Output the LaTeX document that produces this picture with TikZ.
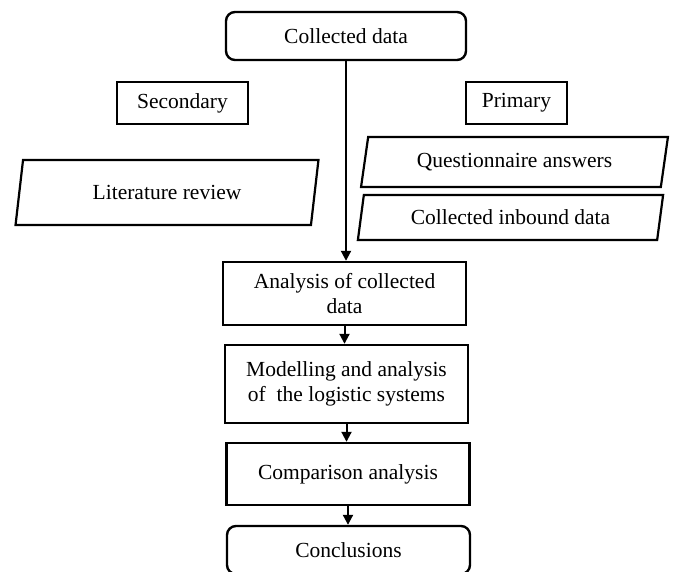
\documentclass[tikz,border=0pt]{standalone}
\usepackage{fontspec}
\setmainfont{Liberation Serif}
\usetikzlibrary{shapes.geometric,arrows.meta}

\begin{document}
\begin{tikzpicture}[x=1pt, y=-1pt,
    every node/.style={font=\fontsize{21.5}{25}\selectfont, align=center, inner sep=0pt},
    startstop/.style={draw, rounded corners=9pt, line width=2.4pt, minimum width=240pt, minimum height=48pt},
    process/.style={draw, line width=2.4pt, minimum width=243pt},
    source/.style={draw, line width=2.2pt, minimum height=42pt},
    io/.style={draw, trapezium, trapezium left angle=75, trapezium right angle=105,
        trapezium stretches=true, line width=2.2pt},
    flow/.style={-{Triangle[length=10pt,width=10pt]}, line width=2pt}
]
\useasboundingbox (0,0) rectangle (678,571);

% Define data sources
\node[startstop] (collected) at (346,36) {Collected data};
\node[source, minimum width=131pt] (secondary) at (182.5,103) {Secondary};
\node[source, minimum width=101pt] (primary) at (516.5,103) {Primary};
\node[io, minimum width=303pt, minimum height=65pt] (literature) at (167,192.5) {Literature review};
\node[io, minimum width=307pt, minimum height=50pt] (questionnaire) at (514.5,162) {Questionnaire answers};
\node[io, minimum width=306pt, minimum height=45pt] (inbound) at (510.5,217.5) {Collected inbound data};

% Define analysis steps
\node[process, minimum height=63pt] (analysis) at (344.5,293.5) {Analysis of collected\\data};
\node[process, minimum height=78pt] (modelling) at (346.5,384) {Modelling and analysis\\of \ the logistic systems};
\node[process, minimum height=62pt] (comparison) at (348,474) {Comparison analysis};
\node[startstop, minimum width=243pt] (conclusions) at (348.5,550) {Conclusions};

% Define arrows
\draw[flow] (collected) -- (collected |- analysis.north);
\draw[flow] (analysis) -- (analysis |- modelling.north);
\draw[flow] (modelling) -- (modelling |- comparison.north);
\draw[flow] (comparison) -- (comparison |- conclusions.north);

\end{tikzpicture}
\end{document}
